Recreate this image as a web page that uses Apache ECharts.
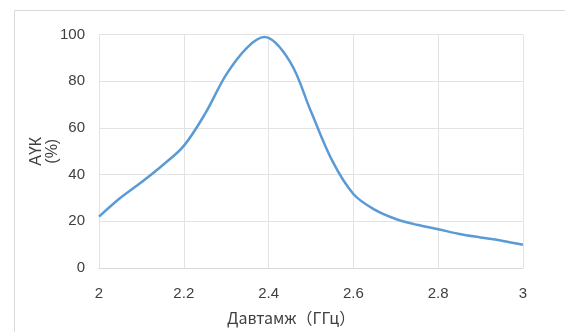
<!DOCTYPE html>
<html>
<head>
<meta charset="utf-8">
<script src="https://cdn.jsdelivr.net/npm/echarts@6/dist/echarts.min.js"></script>
<style>
html,body{margin:0;padding:0;background:#fff;}
#chart{width:565px;height:332px;}
</style>
</head>
<body>
<div id="chart"></div>
<script>
// Frequency (GHz)
var freq = [2.00, 2.05, 2.10, 2.15, 2.20, 2.25, 2.30, 2.35, 2.39,
            2.45, 2.50, 2.55, 2.60, 2.65, 2.70, 2.75,
            2.80, 2.85, 2.90, 2.95, 3.00];
// Efficiency (%)
var efficiency = [22, 30, 36.7, 44, 52.3, 66, 82.8, 94.5, 98.9,
                  88.5, 67, 46, 31.7, 25, 21, 18.5,
                  16.6, 14.6, 13.1, 11.7, 10];
var xTicks = [2, 2.2, 2.4, 2.6, 2.8, 3];
var yTicks = [0, 20, 40, 60, 80, 100];
var xTitle = 'Давтамж（ГГц）';
var yTitle = 'АҮК\n(%)';

var data = freq.map(function (f, i) { return [f, efficiency[i]]; });
var tickFont = "'Liberation Sans Narrow', 'Liberation Sans', sans-serif";

var chart = echarts.init(document.getElementById('chart'), null, {renderer: 'canvas'});
chart.setOption({
  animation: false,
  backgroundColor: '#ffffff',
  grid: {left: 99, right: 42, top: 34.5, bottom: 64},
  graphic: [
    {type: 'rect', shape: {x: 14.5, y: 10.5, width: 560, height: 340},
     style: {fill: 'none', stroke: '#d9d9d9', lineWidth: 1}, silent: true},
    {type: 'text', left: 227, top: 310,
     style: {text: xTitle, fill: '#404040', font: "16px 'Liberation Sans Narrow', 'Noto Sans CJK SC', sans-serif"}}
  ],
  xAxis: {
    type: 'value', min: 2, max: 3, interval: 0.2,
    axisLine: {show: true, lineStyle: {color: '#d9d9d9'}},
    axisTick: {show: false},
    splitLine: {show: true, lineStyle: {color: '#e3e3e3', width: 1}},
    axisLabel: {color: '#404040', fontSize: 15, fontFamily: tickFont, margin: 18,
      formatter: function (v) { var r = Math.round(v*10)/10; return xTicks.indexOf(r) >= 0 ? String(r) : ''; }}
  },
  yAxis: {
    type: 'value', min: 0, max: 100, interval: 20,
    name: yTitle, nameLocation: 'middle', nameGap: 38, nameRotate: 90, nameMoveOverlap: false,
    nameTextStyle: {color: '#404040', fontSize: 16, fontFamily: "'Liberation Sans', sans-serif", lineHeight: 16},
    axisLine: {show: false},
    axisTick: {show: false},
    splitLine: {show: true, lineStyle: {color: '#e3e3e3', width: 1}},
    axisLabel: {color: '#404040', fontSize: 15, fontFamily: tickFont, margin: 14}
  },
  series: [{
    type: 'line', data: data, smooth: 0.35, symbol: 'none',
    lineStyle: {color: '#5b9bd5', width: 2.5}
  }]
});
</script>
</body>
</html>
